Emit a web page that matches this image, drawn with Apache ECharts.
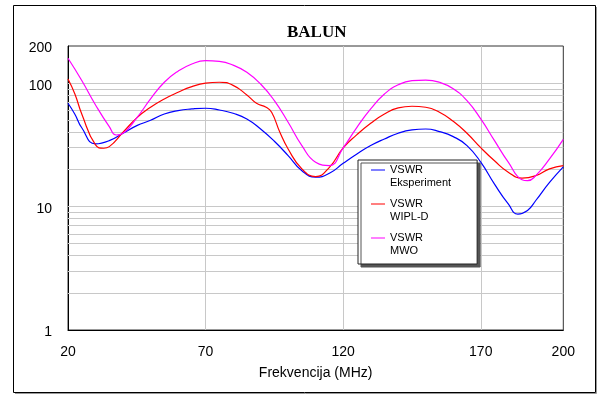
<!DOCTYPE html>
<html><head><meta charset="utf-8">
<script src="https://cdn.jsdelivr.net/npm/echarts@6/dist/echarts.min.js"></script>
<style>html,body{margin:0;padding:0;background:#fff}#c{width:598px;height:394px}</style>
</head><body><div id="c"></div>
<script>
const xTicks = [20, 70, 120, 170, 200];
const xGrid = [70, 120, 170];
const yGrid = [2, 3, 4, 5, 6, 7, 8, 9, 10, 20, 30, 40, 50, 60, 70, 80, 90, 100];

const seriesNames = ['VSWR\nEksperiment', 'VSWR\nWIPL-D', 'VSWR\nMWO'];

const eksF = [20, 22.5, 25, 30, 35, 40, 45, 50, 55, 60, 65, 70, 75, 80, 85, 90, 95, 100, 105, 110, 115, 120, 125, 130, 135, 140, 145, 150, 155, 160, 165, 170, 175, 180, 183.5, 187, 190, 195, 200];
const eksV = [68.7, 56, 43.5, 32.2, 34.2, 39.3, 45.3, 50, 56.3, 60, 61.8, 62.6, 60.6, 57, 51.3, 42.5, 33.8, 25.9, 19.5, 17.3, 18.6, 22.4, 26.7, 31.2, 35.3, 39.3, 41.8, 42.5, 40.5, 36.9, 31.2, 22.9, 15.2, 10.5, 8.7, 9.3, 11.2, 15.7, 21];

const wiplF = [20, 22.5, 25, 30, 33, 35, 40, 45, 50, 55, 60, 65, 70, 75, 80, 85, 88.5, 92, 94, 97, 100, 105, 110, 115, 120, 125, 130, 135, 140, 145, 150, 155, 160, 165, 170, 175, 180, 185, 190, 195, 200];
const wiplV = [108, 81.7, 56.3, 31.6, 29.7, 30.6, 40.0, 52.3, 63.8, 74.5, 84.4, 93.7, 100, 101.7, 96, 80.2, 68.7, 63.8, 58.1, 40.0, 29.3, 20.2, 17.5, 20.8, 29.9, 38.3, 47.3, 56.3, 63, 65, 63.8, 58.1, 49.1, 39.3, 30, 23.5, 19.0, 17.0, 17.8, 20.2, 21.5];

const mwoF = [20, 25, 30, 35, 37.5, 40, 45, 50, 55, 60, 65, 70, 75, 80, 85, 90, 95, 100, 105, 110, 115, 120, 125, 130, 135, 140, 145, 150, 155, 160, 165, 170, 175, 180, 185, 187, 190, 195, 200];
const mwoV = [159, 105, 66.6, 44.4, 38.0, 39.3, 52.3, 74.5, 101.7, 125, 143, 152, 150, 140, 122.5, 98.5, 72.1, 48.2, 31.2, 22.9, 21.5, 29.9, 43.9, 61.8, 81.7, 97, 104.8, 106, 101.7, 90, 72.1, 51.3, 34.2, 22.9, 16.5, 16.2, 17.8, 24.3, 35];

const colors = ['#0000ff', '#ff0000', '#ff00ff'];
const font = 'Liberation Sans, Arial, sans-serif';

function pairs(f, v) { return f.map((x, i) => [x, v[i]]); }

const chart = echarts.init(document.getElementById('c'), null, { renderer: 'canvas' });
chart.setOption({
  animation: false,
  backgroundColor: '#fff',
  title: {
    text: 'BALUN', left: 287, top: 24, padding: 0,
    textStyle: { fontFamily: 'Liberation Serif, Times New Roman, serif', fontSize: 17, fontWeight: 'bold', color: '#000' }
  },
  grid: { left: 68, top: 46, right: 34.7, bottom: 64, show: true, borderColor: '#333', borderWidth: 1, backgroundColor: 'transparent' },
  legend: {
    data: seriesNames, z: 10,
    orient: 'vertical', left: 358, top: 160,
    padding: [3, 26, 6, 13],
    itemGap: 7, itemWidth: 14, itemHeight: 27,
    icon: 'path://M0,0L0.01,0ZM0,6.4L14,6.4L14,7.6L0,7.6ZM0,27L0.01,27Z',
    itemStyle: { borderWidth: 0 },
    textStyle: { fontFamily: font, fontSize: 11, color: '#000', lineHeight: 13.5 },
    backgroundColor: '#fff', borderColor: '#222', borderWidth: 1,
    shadowColor: '#555', shadowOffsetX: 3, shadowOffsetY: 3, shadowBlur: 0,
    selectedMode: false
  },
  xAxis: {
    type: 'value', min: 20, max: 200,
    axisLine: { show: true, onZero: false, lineStyle: { color: '#000', width: 1 } },
    axisTick: { show: false, customValues: xTicks },
    axisLabel: { customValues: xTicks, margin: 15, fontSize: 14, color: '#000', fontFamily: font },
    splitLine: { show: false },
    name: 'Frekvencija (MHz)', nameLocation: 'middle', nameGap: 36,
    nameTextStyle: { fontSize: 14, color: '#000', fontFamily: font }
  },
  yAxis: {
    type: 'log', logBase: 10, min: 1, max: 200,
    axisLine: { show: true, onZero: false, lineStyle: { color: '#000', width: 1 } },
    axisTick: { show: false },
    axisLabel: { margin: 16, fontSize: 14, color: '#000', fontFamily: font, verticalAlign: 'top', lineHeight: 5 },
    splitLine: { show: false },
    minorTick: { show: false },
    minorSplitLine: { show: false }
  },
  graphic: [
    { type: 'rect', shape: { x: 13.5, y: 5.5, width: 582, height: 387 }, style: { fill: 'none', stroke: '#000', lineWidth: 1 }, z: 100 },
    { type: 'polyline', shape: { points: [[596.5, 7], [596.5, 393.5], [15, 393.5]] }, style: { fill: 'none', stroke: '#999', lineWidth: 1 }, z: 100 }
  ],
  series: [
    {
      type: 'line', data: [], z: 1, silent: true,
      markLine: {
        z: 1, silent: true, symbol: ['none', 'none'], label: { show: false }, animation: false,
        lineStyle: { color: '#c8c8c8', type: 'solid', width: 1 },
        emphasis: { disabled: true },
        data: yGrid.map(v => ({ yAxis: v })).concat(xGrid.map(v => ({ xAxis: v })))
      }
    },
    { name: seriesNames[0], type: 'line', z: 3, data: pairs(eksF, eksV), showSymbol: false, smooth: 0.5, lineStyle: { width: 1.2, color: colors[0] }, itemStyle: { color: colors[0] } },
    { name: seriesNames[1], type: 'line', z: 3, data: pairs(wiplF, wiplV), showSymbol: false, smooth: 0.5, lineStyle: { width: 1.2, color: colors[1] }, itemStyle: { color: colors[1] } },
    { name: seriesNames[2], type: 'line', z: 3, data: pairs(mwoF, mwoV), showSymbol: false, smooth: 0.5, lineStyle: { width: 1.2, color: colors[2] }, itemStyle: { color: colors[2] } }
  ]
});
</script>
</body></html>
